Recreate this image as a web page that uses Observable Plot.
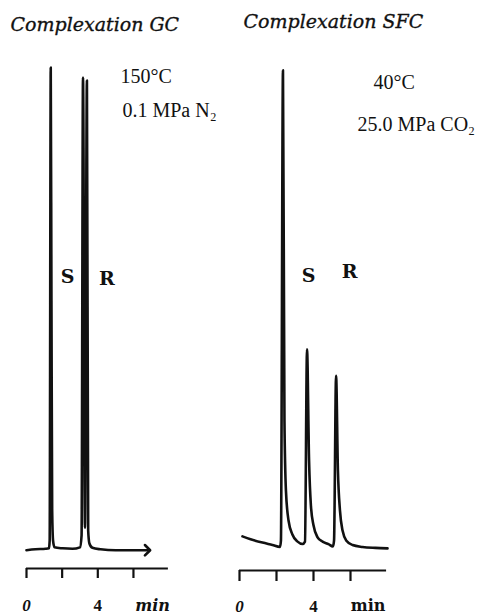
<!DOCTYPE html>
<html>
<head>
<meta charset="utf-8">
<script src="https://cdn.jsdelivr.net/npm/d3@7"></script>
<script src="https://cdn.jsdelivr.net/npm/@observablehq/plot@0.6"></script>
<style>
html, body { margin: 0; padding: 0; background: #fff; }
#chart { position: relative; width: 496px; height: 615px; overflow: hidden; background: #fff; }
#chart svg { position: absolute; left: 0; top: 0; background: transparent; }
</style>
</head>
<body>
<div id="chart"></div>
<script>
// ---- Data (time in min, detector signal in arbitrary units) ----
const gcTime   = [0.0, 0.5, 1.07, 1.26, 1.30, 1.36, 1.40, 1.44, 1.49, 1.57, 2.02, 2.58, 3.00, 3.09, 3.17, 3.28, 3.39, 3.46, 3.53, 3.70, 4.15, 5.00, 5.83, 6.79];
const gcSignal = [-0.2, 0.0, 0.1, 0.2, 1.8, 100.2, 51.7, 8.1, 1.8, 0.4, 0.2, 0.1, 0.4, 2.9, 98.1, 4.5, 97.5, 3.9, 1.2, 0.3, 0.0, -0.2, -0.2, -0.2];

const sfcTime   = [0.16, 0.60, 1.24, 1.78, 2.19, 2.24, 2.35, 2.43, 2.51, 2.65, 2.86, 3.14, 3.41, 3.54, 3.65, 3.76, 3.86, 4.00, 4.22, 4.49, 4.81, 5.05, 5.11, 5.22, 5.32, 5.43, 5.57, 5.78, 6.11, 6.65, 7.35, 8.00];
const sfcSignal = [2.7, 2.1, 1.4, 0.9, 0.5, 1.8, 99.6, 26.8, 12.2, 6.0, 3.1, 1.6, 1.1, 1.6, 41.6, 18.5, 9.1, 5.0, 2.5, 1.6, 1.1, 0.6, 1.8, 36.1, 16.4, 8.1, 3.9, 1.8, 0.9, 0.5, 0.3, 0.2];

const panelTitles = ["Complexation GC", "Complexation SFC"];
const gcConditions = ["150°C", "0.1 MPa N₂"];
const sfcConditions = ["40°C", "25.0 MPa CO₂"];
const peakLabels = ["S", "R"];
const tickValues = [0, 2, 4, 6];
const tickLabels = ["0", "4", "min"];
const gcTickLabelTimes = [0, 4, 7.07];
const sfcTickLabelTimes = [0, 4, 6.95];

// ---- build tables ----
const gcData = gcTime.map((t, i) => ({t, s: gcSignal[i]}));
const sfcData = sfcTime.map((t, i) => ({t, s: sfcSignal[i]}));

const ink = "#111";
const serif = "'DejaVu Serif', serif";
const roman = "'Liberation Serif', 'Times New Roman', serif";

function panel(cfg) {
  const labels = tickLabels.map((label, i) => ({label, t: cfg.labelTimes[i]}));
  const yMin = cfg.yMin;
  return Plot.plot({
    width: 496,
    height: 615,
    marginLeft: cfg.marginLeft,
    marginRight: cfg.marginRight,
    marginTop: 68,
    marginBottom: cfg.marginBottom,
    style: {background: "transparent", overflow: "visible"},
    x: {domain: [0, 8], label: null},
    y: {domain: [yMin, 100], axis: null},
    marks: [
      // time axis line and ticks
      Plot.ruleY([yMin], {x1: 0, x2: cfg.axisEnd, stroke: ink, strokeWidth: 2.2}),
      Plot.axisX({ticks: tickValues, tickSize: cfg.tickSize, tickFormat: () => "", stroke: ink, strokeWidth: 2.2, label: null}),
      // tick labels
      Plot.text(labels.filter((d, i) => i === 0), {x: "t", y: () => yMin, text: "label", dy: cfg.labelDy, lineAnchor: "bottom",
        fontFamily: roman, fontWeight: "bold", fontStyle: "italic", fontSize: 17, fill: ink}),
      Plot.text(labels.filter((d, i) => i === 1), {x: "t", y: () => yMin, text: "label", dy: cfg.labelDy, lineAnchor: "bottom",
        fontFamily: roman, fontWeight: "bold", fontSize: 17, fill: ink}),
      Plot.text(labels.filter((d, i) => i === 2), {x: "t", y: () => yMin, text: "label", dy: cfg.minDy, lineAnchor: "bottom",
        fontFamily: serif, fontWeight: "bold", fontStyle: cfg.minStyle, fontSize: 16, fill: ink}),
      // chromatogram trace
      Plot.line(cfg.data, {x: "t", y: "s", stroke: ink, strokeWidth: 2.6, curve: "monotone-x", markerEnd: cfg.marker}),
      // panel title
      Plot.text([cfg.title], {frameAnchor: "top-left", text: d => d, dx: cfg.titleDx, dy: cfg.titleDy, textAnchor: "start", lineAnchor: "bottom",
        fontFamily: serif, fontStyle: "italic", fontSize: 19, fill: ink, stroke: ink, strokeWidth: 0.35}),
      // conditions
      Plot.text([cfg.conditions[0]], {x: () => cfg.condPos[0][0], y: () => cfg.condPos[0][1], text: d => d, textAnchor: "start", lineAnchor: "bottom",
        fontFamily: roman, fontSize: 20, fill: ink}),
      Plot.text([cfg.conditions[1]], {x: () => cfg.condPos[1][0], y: () => cfg.condPos[1][1], text: d => d, textAnchor: "start", lineAnchor: "bottom",
        fontFamily: roman, fontSize: 20, fill: ink}),
      // enantiomer labels
      Plot.text(peakLabels, {x: (d, i) => cfg.peakPos[i][0], y: (d, i) => cfg.peakPos[i][1], text: d => d, lineAnchor: "bottom",
        fontFamily: serif, fontWeight: "bold", fontSize: 19, fill: ink})
    ]
  });
}

const gc = panel({
  data: gcData, title: panelTitles[0], conditions: gcConditions,
  marginLeft: 26, marginRight: 327.4, marginBottom: 47, yMin: -4, axisEnd: 7.96,
  tickSize: 10, labelTimes: gcTickLabelTimes, labelDy: 42, minDy: 42, minStyle: "italic",
  marker: "arrow", titleDx: -16, titleDy: -38,
  condPos: [[5.27, 96.9], [5.38, 90.0]],
  peakPos: [[2.30, 55.3], [4.51, 54.9]]
});
const sfc = panel({
  data: sfcData, title: panelTitles[1], conditions: sfcConditions,
  marginLeft: 239, marginRight: 109, marginBottom: 45, yMin: -4.4, axisEnd: 7.95,
  tickSize: 11, labelTimes: sfcTickLabelTimes, labelDy: 41, minDy: 40, minStyle: "normal",
  marker: "none", titleDx: 4, titleDy: -41,
  condPos: [[7.24, 95.8], [6.38, 87.1]],
  peakPos: [[3.73, 55.7], [5.95, 56.5]]
});
const chart = document.getElementById("chart");
chart.appendChild(gc);
chart.appendChild(sfc);
</script>
</body>
</html>
